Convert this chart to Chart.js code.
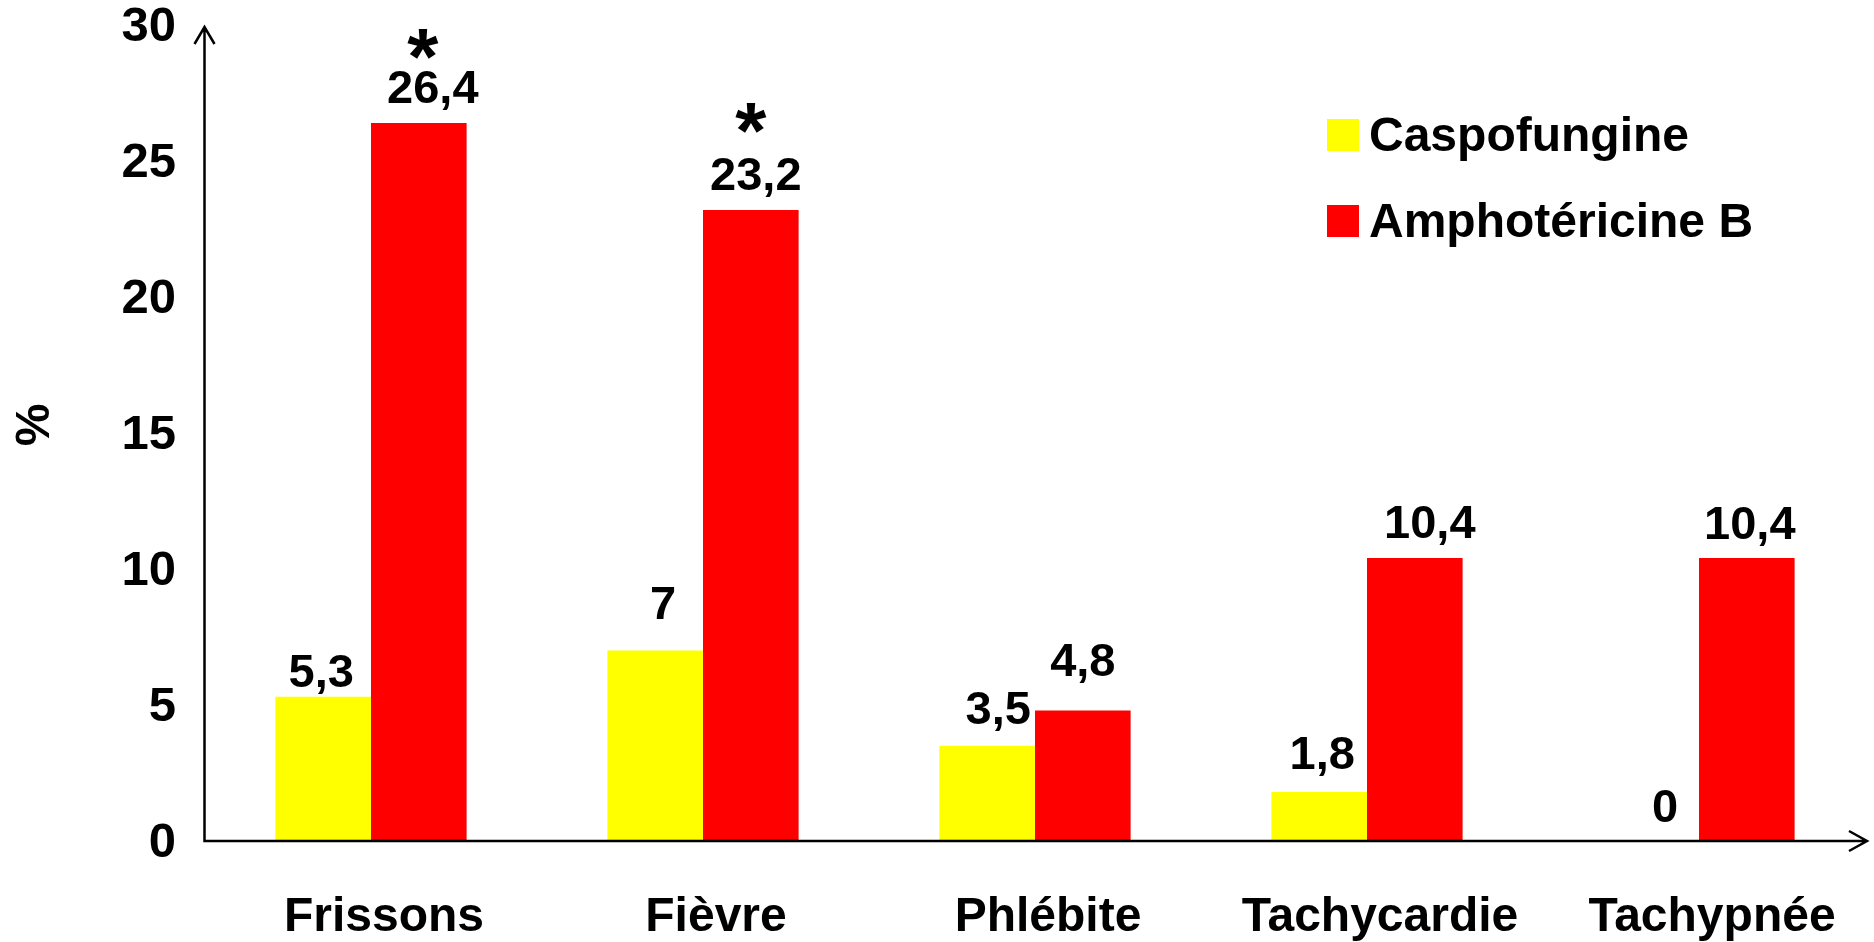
<!DOCTYPE html>
<html>
<head>
<meta charset="utf-8">
<script src="https://cdn.jsdelivr.net/npm/chart.js@4/dist/chart.umd.min.js"></script>
<style>
  html, body { margin: 0; padding: 0; background: #ffffff; }
  #wrap { width: 1874px; height: 942px; }
</style>
</head>
<body>
<div id="wrap"><canvas id="chart" width="1874" height="942"></canvas></div>
<script>
// Adverse infusion events, % of patients per treatment arm
const categories = ['Frissons', 'Fièvre', 'Phlébite', 'Tachycardie', 'Tachypnée'];
const caspofungine = [5.3, 7, 3.5, 1.8, 0];
const amphotericineB = [26.4, 23.2, 4.8, 10.4, 10.4];
// categories where the difference is significant (star above the Amphotéricine B bar)
const significant = [true, true, false, false, false];
const yTicks = [0, 5, 10, 15, 20, 25, 30];
const seriesNames = ['Caspofungine', 'Amphotéricine B'];
const yTitle = '%';

const FONT = 'Liberation Sans, Arial, Helvetica, sans-serif';
const COLORS = ['#FFFF00', '#FF0000'];

// small hand placement tweaks for the value labels [dx, dy] relative to the bar top
const labelShift = [
  [[-2, -23], [8, -45], [11, -35], [3, -36], [14, -32]],
  [[14, -33], [5, -33], [0, -47], [15, -33], [3, -32]]
];
const starShift = [[4, -79], [0, -92]];

const fmt = v => String(v).replace('.', ',');

// axis lines with open arrowheads
const axesPlugin = {
  id: 'arrowAxes',
  afterDatasetsDraw(chart) {
    const { ctx, chartArea: a } = chart;
    const x0 = a.left - 0.5, y0 = a.bottom;
    ctx.save();
    ctx.strokeStyle = '#000';
    ctx.lineWidth = 2.5;
    ctx.lineCap = 'butt';
    ctx.beginPath();
    ctx.moveTo(x0, y0 + 1.2);
    ctx.lineTo(x0, a.top + 2);
    ctx.moveTo(x0 - 10, a.top + 19);
    ctx.lineTo(x0, a.top + 2);
    ctx.lineTo(x0 + 10, a.top + 19);
    ctx.moveTo(x0 - 1.2, y0);
    ctx.lineTo(a.right + 2, y0);
    ctx.moveTo(a.right - 16, y0 - 10);
    ctx.lineTo(a.right + 2, y0);
    ctx.lineTo(a.right - 16, y0 + 10);
    ctx.stroke();
    ctx.restore();
  }
};

// value labels, significance stars, axis title and the legend
const annotatePlugin = {
  id: 'annotate',
  afterDraw(chart) {
    const { ctx, chartArea: a } = chart;
    ctx.save();
    ctx.fillStyle = '#000';
    ctx.textAlign = 'center';
    ctx.textBaseline = 'middle';
    ctx.font = 'bold 47px ' + FONT;
    chart.data.datasets.forEach((ds, di) => {
      const meta = chart.getDatasetMeta(di);
      meta.data.forEach((bar, i) => {
        const [dx, dy] = labelShift[di][i];
        ctx.fillText(fmt(ds.data[i]), bar.x + dx, bar.y + dy);
      });
    });

    // stars above the significant Amphotéricine B bars
    ctx.font = 'bold 80px ' + FONT;
    ctx.textBaseline = 'alphabetic';
    const m = ctx.measureText('*');
    const asc = m.actualBoundingBoxAscent, desc = m.actualBoundingBoxDescent;
    const metaB = chart.getDatasetMeta(1);
    let s = 0;
    significant.forEach((sig, i) => {
      if (!sig) return;
      const bar = metaB.data[i];
      const [dx, dy] = starShift[s++] || [0, -80];
      const cy = bar.y + dy;
      ctx.fillText('*', bar.x + dx, cy + (asc - desc) / 2);
    });

    // rotated y-axis title
    ctx.save();
    ctx.font = 'bold 48px ' + FONT;
    ctx.textBaseline = 'middle';
    ctx.translate(36, a.top + (a.bottom - a.top) * 0.49);
    ctx.rotate(-Math.PI / 2);
    ctx.fillText(yTitle, 0, 0);
    ctx.restore();

    // legend
    const lx = 1327, ly = 119, box = 32, step = 86;
    ctx.font = 'bold 48px ' + FONT;
    ctx.textAlign = 'left';
    ctx.textBaseline = 'middle';
    chart.data.datasets.forEach((ds, di) => {
      const y = ly + di * step;
      ctx.fillStyle = ds.backgroundColor;
      ctx.fillRect(lx, y, box, box);
      ctx.fillStyle = '#000';
      ctx.fillText(ds.label, lx + box + 10, y + box / 2 + 3);
    });
    ctx.restore();
  }
};

new Chart(document.getElementById('chart'), {
  type: 'bar',
  data: {
    labels: categories,
    datasets: [
      { label: seriesNames[0], data: caspofungine, backgroundColor: COLORS[0] },
      { label: seriesNames[1], data: amphotericineB, backgroundColor: COLORS[1] }
    ]
  },
  options: {
    responsive: false,
    animation: false,
    devicePixelRatio: 1,
    layout: { padding: { top: 0, right: 9, left: 0, bottom: 0 } },
    datasets: { bar: { categoryPercentage: 0.576, barPercentage: 1.0, borderWidth: 0 } },
    plugins: { legend: { display: false }, tooltip: { enabled: false } },
    scales: {
      x: {
        grid: { display: false, drawTicks: false },
        border: { display: false },
        ticks: {
          color: '#000', padding: 48, labelOffset: 13,
          font: { family: FONT, size: 48, weight: 'bold' }
        },
        afterFit(scale) { scale.height = 101; scale.paddingLeft = 0; scale.paddingRight = 0; }
      },
      y: {
        min: 0,
        max: 30,
        grid: { display: false, drawTicks: false },
        border: { display: false },
        afterBuildTicks(scale) { scale.ticks = yTicks.map(v => ({ value: v })); },
        ticks: {
          color: '#000', padding: 29, labelOffset: 2,
          font: { family: FONT, size: 49, weight: 'bold', lineHeight: 1.0 }
        },
        afterFit(scale) { scale.width = 205; scale.paddingTop = 25; scale.paddingBottom = 0; }
      }
    }
  },
  plugins: [axesPlugin, annotatePlugin]
});
</script>
</body>
</html>
